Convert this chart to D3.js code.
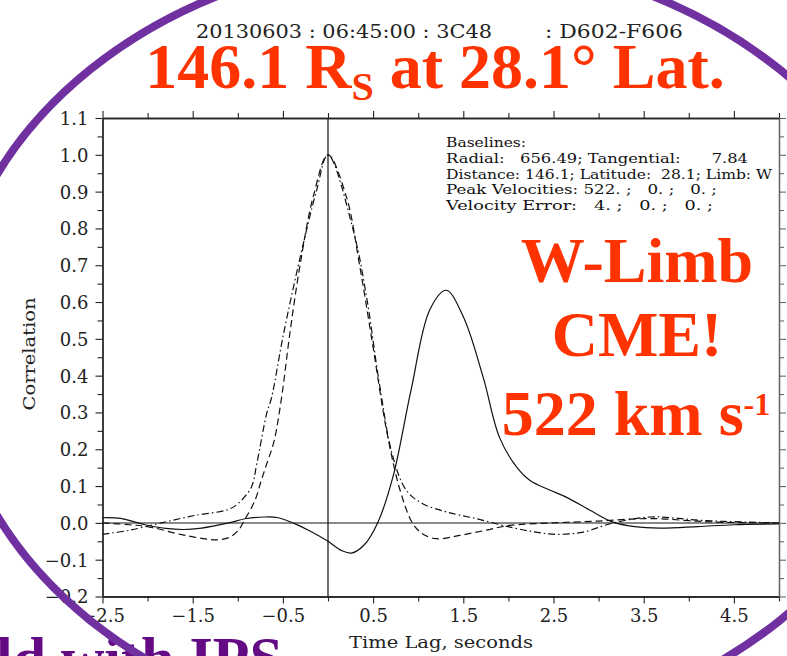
<!DOCTYPE html>
<html>
<head>
<meta charset="utf-8">
<script src="https://cdn.jsdelivr.net/npm/d3@7"></script>
<style>
  body { margin: 0; background: #ffffff; }
  svg { display: block; }
</style>
</head>
<body>
<script>
// ---- data ----
var lagDomain = [-2.5, 5.0];
var corrDomain = [-0.2, 1.1];

// solid curve (the one peaking at 1.3 s)
var solidLag = [-2.5, -2.3, -2.03, -1.8, -1.6, -1.4, -1.1, -0.9, -0.7, -0.55, -0.37, -0.2, 0.0, 0.15, 0.26, 0.4, 0.55, 0.72, 0.92, 1.13, 1.31, 1.5, 1.72, 1.9, 2.09, 2.24, 2.45, 2.64, 2.9, 3.16, 3.4, 3.68, 4.1, 4.5, 5.0];
var solidCorr = [0.014, 0.012, -0.005, -0.015, -0.018, -0.014, 0.0, 0.012, 0.016, 0.014, -0.002, -0.022, -0.05, -0.075, -0.082, -0.06, 0.0, 0.125, 0.36, 0.58, 0.632, 0.56, 0.396, 0.233, 0.152, 0.115, 0.09, 0.07, 0.035, 0.002, -0.01, -0.014, -0.01, -0.005, -0.003];

// long-dash curve (narrow peak at 0)
var dashLag = [-2.5, -2.2, -1.96, -1.66, -1.4, -1.24, -1.1, -1.0, -0.92, -0.81, -0.74, -0.68, -0.6, -0.515, -0.42, -0.31, -0.165, 0.0, 0.205, 0.35, 0.5, 0.65, 0.8, 0.94, 1.05, 1.2, 1.46, 1.75, 2.01, 2.5, 3.0, 3.42, 3.7, 4.0, 4.3, 5.0];
var dashCorr = [0.0, -0.005, -0.012, -0.03, -0.042, -0.046, -0.04, -0.022, 0.01, 0.061, 0.115, 0.16, 0.22, 0.34, 0.52, 0.70, 0.885, 1.0, 0.885, 0.70, 0.477, 0.25, 0.088, -0.002, -0.03, -0.043, -0.034, -0.02, -0.007, 0.0, 0.005, 0.011, 0.011, 0.006, 0.002, 0.0];

// dash-dot curve (broad peak at 0)
var dotLag = [-2.5, -2.2, -1.85, -1.48, -1.11, -1.0, -0.85, -0.79, -0.68, -0.626, -0.5, -0.31, -0.13, 0.0, 0.28, 0.43, 0.57, 0.72, 0.87, 1.05, 1.31, 1.65, 2.01, 2.3, 2.53, 2.83, 3.16, 3.57, 3.8, 4.12, 4.67, 5.0];
var dotCorr = [-0.031, -0.02, 0.0, 0.02, 0.036, 0.052, 0.097, 0.16, 0.297, 0.34, 0.505, 0.72, 0.9, 1.0, 0.795, 0.61, 0.378, 0.179, 0.088, 0.052, 0.03, 0.011, -0.011, -0.025, -0.031, -0.025, 0.0, 0.016, 0.014, 0.007, 0.002, 0.0];

var xTickLabels = [-2.5, -1.5, -0.5, 0.5, 1.5, 2.5, 3.5, 4.5];
var yTickLabels = [1.1, 1.0, 0.9, 0.8, 0.7, 0.6, 0.5, 0.4, 0.3, 0.2, 0.1, 0.0, -0.1, -0.2];

var headerLeft = "20130603 : 06:45:00 : 3C48";
var headerRight = ": D602-F606";
var infoLines = [
    "Baselines:",
    "Radial:   656.49; Tangential:      7.84",
    "Distance: 146.1; Latitude:  28.1; Limb: W",
    "Peak Velocities: 522. ;   0. ;   0. ;",
    "Velocity Error:   4. ;   0. ;   0. ;"
];

window.onload = function(){

    var w = 787, h = 656;
    var left = 102.5, right = 779, top = 118, bottom = 596.5;
    var serif = "'DejaVu Serif', serif";
    var times = "'Liberation Serif', 'Times New Roman', serif";

    var svg = d3.select("body")
        .append("svg")
        .attr("width", w)
        .attr("height", h)
        .attr("class", "container");

    var x = d3.scaleLinear().domain(lagDomain).range([left, right]);
    var y = d3.scaleLinear().domain(corrDomain).range([bottom, top]);

    //header line
    svg.append("text")
        .attr("x", 196).attr("y", 38)
        .style("font-family", serif).style("font-size", "18px").style("fill", "#222")
        .attr("textLength", 296).attr("lengthAdjust", "spacingAndGlyphs")
        .text(headerLeft);
    svg.append("text")
        .attr("x", 545).attr("y", 38)
        .style("font-family", serif).style("font-size", "18px").style("fill", "#222")
        .attr("textLength", 138).attr("lengthAdjust", "spacingAndGlyphs")
        .text(headerRight);

    //zero lines
    svg.append("line")
        .attr("class", "zeroH")
        .attr("x1", left).attr("x2", right)
        .attr("y1", y(0)).attr("y2", y(0))
        .style("stroke", "#8a8a8a").style("stroke-width", 2);
    svg.append("line")
        .attr("class", "zeroV")
        .attr("x1", x(0)).attr("x2", x(0))
        .attr("y1", top).attr("y2", bottom)
        .style("stroke", "#111").style("stroke-width", 1.2);

    //ticks: major at labels, minor halfway
    var xMinor = d3.range(-2.0, 5.01, 1.0);
    var yMinor = d3.range(-0.15, 1.1, 0.1);

    function tickFmt(d){ return d3.format(".1f")(d); }

    var axes = [
        { ax: d3.axisBottom(x).tickValues(xTickLabels).tickSize(7).tickFormat(tickFmt), tr: "translate(0," + bottom + ")", cls: "xBottom" },
        { ax: d3.axisBottom(x).tickValues(xMinor).tickSize(5).tickFormat(""), tr: "translate(0," + bottom + ")", cls: "xBottomMinor" },
        { ax: d3.axisTop(x).tickValues(xTickLabels).tickSize(7).tickFormat(""), tr: "translate(0," + top + ")", cls: "xTop" },
        { ax: d3.axisTop(x).tickValues(xMinor).tickSize(5).tickFormat(""), tr: "translate(0," + top + ")", cls: "xTopMinor" },
        { ax: d3.axisLeft(y).tickValues(yTickLabels).tickSize(7).tickFormat(tickFmt), tr: "translate(" + left + ",0)", cls: "yLeft" },
        { ax: d3.axisLeft(y).tickValues(yMinor).tickSize(5).tickFormat(""), tr: "translate(" + left + ",0)", cls: "yLeftMinor" },
        { ax: d3.axisRight(y).tickValues(yTickLabels).tickSize(7).tickFormat(""), tr: "translate(" + right + ",0)", cls: "yRight" },
        { ax: d3.axisRight(y).tickValues(yMinor).tickSize(5).tickFormat(""), tr: "translate(" + right + ",0)", cls: "yRightMinor" }
    ];
    axes.forEach(function(a){
        var col = a.cls.indexOf("yRight") === 0 ? "#666" : "#222";
        var g = svg.append("g")
            .attr("class", a.cls)
            .attr("transform", a.tr)
            .call(a.ax.tickSizeOuter(0));
        g.selectAll("line").style("stroke", col).style("stroke-width", 1.1);
        g.select(".domain").style("stroke", col).style("stroke-width", 1.3);
        g.selectAll("text")
            .style("font-family", serif)
            .style("font-size", "18px")
            .style("fill", "#222");
    });
    svg.selectAll(".xBottom text").attr("y", 13);
    svg.selectAll(".yLeft text").attr("x", -14).attr("dy", "0.36em");

    //axis titles
    svg.append("text")
        .attr("x", 441).attr("y", 648)
        .attr("text-anchor", "middle")
        .attr("textLength", 184).attr("lengthAdjust", "spacingAndGlyphs")
        .style("font-family", serif).style("font-size", "17px").style("fill", "#222")
        .text("Time Lag, seconds");
    svg.append("text")
        .attr("transform", "translate(35,354) rotate(-90)")
        .attr("text-anchor", "middle")
        .attr("textLength", 113).attr("lengthAdjust", "spacingAndGlyphs")
        .style("font-family", serif).style("font-size", "17px").style("fill", "#222")
        .text("Correlation");

    //curves
    var line = d3.line()
        .x(function(d){ return x(d[0]); })
        .y(function(d){ return y(d[1]); })
        .curve(d3.curveCatmullRom.alpha(0.5));

    var series = [
        { lag: dotLag, corr: dotCorr, dash: "7,3,1.5,3" },
        { lag: dashLag, corr: dashCorr, dash: "7,4" },
        { lag: solidLag, corr: solidCorr, dash: null }
    ];
    series.forEach(function(s, i){
        var pts = s.lag.map(function(t, j){ return [t, s.corr[j]]; });
        svg.append("path")
            .datum(pts)
            .attr("class", "curve" + i)
            .attr("d", line)
            .style("fill", "none")
            .style("stroke", "#111")
            .style("stroke-width", 1.2)
            .style("stroke-dasharray", s.dash);
    });

    //info block, stretched to the widths of the original IDL font
    var infoWidth = [80, 302, 326, 271, 267];
    svg.selectAll(".info")
        .data(infoLines)
        .enter()
        .append("text")
        .attr("class", "info")
        .attr("x", 446)
        .attr("y", function(d, i){ return 147 + i * 15.8; })
        .attr("textLength", function(d, i){ return infoWidth[i]; })
        .attr("lengthAdjust", "spacingAndGlyphs")
        .style("font-family", serif)
        .style("font-size", "13px")
        .style("white-space", "pre")
        .style("fill", "#111")
        .text(function(d){ return d; });

    //red annotations
    var red = "#ff3300";
    var title = svg.append("text")
        .attr("x", 435).attr("y", 88)
        .attr("text-anchor", "middle")
        .style("font-family", times).style("font-weight", "bold")
        .style("font-size", "64px").style("fill", red);
    title.append("tspan").text("146.1 R");
    title.append("tspan").attr("dy", 12).style("font-size", "40px").text("S");
    title.append("tspan").attr("dy", -12).text(" at 28.1\u00b0 Lat.");

    var bigLines = ["W-Limb", "CME!"];
    svg.selectAll(".big")
        .data(bigLines)
        .enter()
        .append("text")
        .attr("class", "big")
        .attr("x", 637)
        .attr("y", function(d, i){ return 282 + i * 74; })
        .attr("text-anchor", "middle")
        .style("font-family", times).style("font-weight", "bold")
        .style("font-size", "64px").style("fill", red)
        .text(function(d){ return d; });
    var speed = svg.append("text")
        .attr("x", 636).attr("y", 435)
        .attr("text-anchor", "middle")
        .style("font-family", times).style("font-weight", "bold")
        .style("font-size", "64px").style("fill", red);
    speed.append("tspan").text("522 km s");
    speed.append("tspan").attr("dy", -20).style("font-size", "32px").text("-1");

    //bottom slide text, mostly cut off by the page edge
    svg.append("text")
        .attr("x", -4).attr("y", 678)
        .style("font-family", times).style("font-weight", "bold")
        .style("font-size", "60px").style("fill", "#650a85")
        .text("ld with IPS");

    //purple slide ellipse
    svg.append("ellipse")
        .attr("cx", 435).attr("cy", 345)
        .attr("rx", 487).attr("ry", 390)
        .style("fill", "none")
        .style("stroke", "#7030a0")
        .style("stroke-width", 8);
};
</script>
</body>
</html>
